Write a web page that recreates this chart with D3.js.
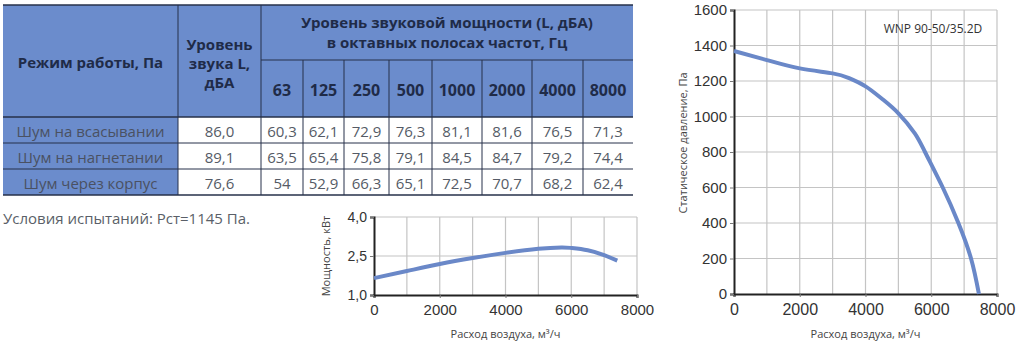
<!DOCTYPE html>
<html><head><meta charset="utf-8">
<script src="https://cdn.jsdelivr.net/npm/d3@7"></script>
<style>body{margin:0;background:#fff}svg{display:block}</style>
</head><body>
<svg id="c" width="1023" height="351"></svg>
<script>
// ---- data ----
const freqBands = ["63","125","250","500","1000","2000","4000","8000"];
const rowLabels = ["Шум на всасывании","Шум на нагнетании","Шум через корпус"];
const totalLevel = ["86,0","89,1","76,6"];
const bandLevels = [
  ["60,3","62,1","72,9","76,3","81,1","81,6","76,5","71,3"],
  ["63,5","65,4","75,8","79,1","84,5","84,7","79,2","74,4"],
  ["54","52,9","66,3","65,1","72,5","70,7","68,2","62,4"]
];
const testNote = "Условия испытаний: Рст=1145 Па.";
const powerFlow = [0,1000,2000,3000,4000,5000,5700,6000,6500,7000,7400];
const powerKW   = [1.65,1.92,2.19,2.42,2.62,2.78,2.83,2.81,2.72,2.53,2.32];
const powerYTicks = [1.0,2.5,4.0];
const flowTicks = [0,2000,4000,6000,8000];
const pressFlow = [0,1000,2000,3000,3500,4000,4500,5000,5500,5810,6350,6825,7210,7450];
const pressPa   = [1369,1318,1271,1243,1216,1170,1100,1018,905,800,600,400,200,0];
const pressYTicks = [0,200,400,600,800,1000,1200,1400,1600];
const modelName = "WNP 90-50/35.2D";

const svg = d3.select("#c");
const blue = "#6b8ccc", border = "#26304a", hdrText = "#1f2b48", bodyText = "#555b66", curveCol = "#6a88c8";
const font = "'Open Sans', sans-serif";

// ---- table ----
const colX = [3,178,261,303,344,389,432,482,532,583,633];
const yTop = 5, ySub = 60, yHead = 117, rowH = 26;
const t = svg.append("g");
t.append("rect").attr("x",colX[0]).attr("y",yTop).attr("width",colX[10]-colX[0]).attr("height",yHead-yTop).attr("fill",blue);
t.append("rect").attr("x",colX[0]).attr("y",yHead).attr("width",colX[1]-colX[0]).attr("height",rowH*3).attr("fill",blue);
const L = (x1,y1,x2,y2,w)=>t.append("line").attr("x1",x1).attr("y1",y1).attr("x2",x2).attr("y2",y2).attr("stroke",border).attr("stroke-width",w||1);
L(colX[0],yTop,colX[10],yTop,1.5);
L(colX[2],ySub,colX[10],ySub);
for(let i=0;i<=3;i++) L(colX[0],yHead+i*rowH,colX[10],yHead+i*rowH,i===0||i===3?1.5:1);
L(colX[1],yTop,colX[1],yHead+3*rowH);
L(colX[2],yTop,colX[2],yHead+3*rowH);
for(let i=3;i<10;i++) L(colX[i],ySub,colX[i],yHead+3*rowH);
const T = (x,y,s,opt)=>t.append("text").attr("x",x).attr("y",y).attr("text-anchor","middle").attr("dominant-baseline","central")
  .attr("font-family",font).attr("font-size",opt.size||15).attr("font-weight",opt.bold?700:400).attr("fill",opt.fill).text(s);
T((colX[0]+colX[1])/2,62,"Режим работы, Па",{bold:1,fill:hdrText});
T((colX[1]+colX[2])/2,44,"Уровень",{bold:1,fill:hdrText});
T((colX[1]+colX[2])/2,63,"звука L,",{bold:1,fill:hdrText});
T((colX[1]+colX[2])/2,82,"дБА",{bold:1,fill:hdrText});
T((colX[2]+colX[10])/2,22,"Уровень звуковой мощности (L, дБА)",{bold:1,fill:hdrText});
T((colX[2]+colX[10])/2,42,"в октавных полосах частот, Гц",{bold:1,fill:hdrText});
freqBands.forEach((f,i)=>T((colX[i+2]+colX[i+3])/2,90,f,{bold:1,fill:hdrText,size:16}));
rowLabels.forEach((r,j)=>{
  const cy = yHead+rowH*j+rowH/2+1;
  T((colX[0]+colX[1])/2,cy,r,{fill:"#4a5162"});
  T((colX[1]+colX[2])/2,cy,totalLevel[j],{fill:bodyText});
  bandLevels[j].forEach((v,i)=>T((colX[i+2]+colX[i+3])/2,cy,v,{fill:bodyText}));
});
svg.append("text").attr("x",3).attr("y",218).attr("dominant-baseline","central").attr("font-family",font)
  .attr("font-size",15).attr("fill","#5a5f68").text(testNote);

// ---- generic chart helper ----
function chart(o){
  const g = svg.append("g");
  const x = d3.scaleLinear().domain([0,8000]).range([o.x0,o.x1]);
  const y = d3.scaleLinear().domain(o.ydom).range([o.y1,o.y0]);
  g.append("g").selectAll("line").data(d3.range(1000,8001,1000)).join("line")
    .attr("x1",d=>x(d)).attr("x2",d=>x(d)).attr("y1",o.y0).attr("y2",o.y1).attr("stroke","#c4c4c4").attr("stroke-width",1.2);
  g.append("g").selectAll("line").data(o.yt.slice(1)).join("line")
    .attr("x1",o.x0).attr("x2",o.x1).attr("y1",d=>y(d)).attr("y2",d=>y(d)).attr("stroke","#c4c4c4").attr("stroke-width",1.2);
  const ax = g.append("g").attr("transform",`translate(0,${o.y1})`).call(d3.axisBottom(x).tickValues(flowTicks).tickSize(3).tickPadding(o.xpad).tickFormat(d3.format("d")));
  const ay = g.append("g").attr("transform",`translate(${o.x0},0)`).call(d3.axisLeft(y).tickValues(o.yt).tickSize(4).tickPadding(3).tickFormat(o.yfmt));
  [ax,ay].forEach(a=>{a.select(".domain").attr("stroke","#222").attr("stroke-width",2);
    a.selectAll(".tick line").attr("stroke","#777");
    a.selectAll("text").attr("font-family","'Liberation Sans', Arial, sans-serif").attr("fill","#333");});
  ax.selectAll("text").attr("font-size",o.fsx);
  ay.selectAll("text").attr("font-size",o.fsy);
  g.append("path").datum(o.xs.map((v,i)=>[v,o.ys[i]]))
    .attr("d",d3.line().x(d=>x(d[0])).y(d=>y(d[1])).curve(d3.curveNatural))
    .attr("fill","none").attr("stroke",curveCol).attr("stroke-width",4).attr("stroke-linecap","butt");
  g.append("text").attr("x",(o.x0+o.x1)/2).attr("y",333).attr("text-anchor","middle").attr("dominant-baseline","central")
    .attr("font-family",font).attr("font-size",11).attr("fill","#444").text("Расход воздуха, м³/ч");
  g.append("text").attr("transform",`translate(${o.ylx},${o.yly}) rotate(-90)`).attr("text-anchor","middle").attr("dominant-baseline","central")
    .attr("font-family",font).attr("font-size",11).attr("fill","#444").text(o.ylab);
  return {g,x,y};
}
chart({x0:374,x1:637,y0:217,y1:295,ydom:[1,4],yt:powerYTicks,yfmt:d=>d3.format(".1f")(d).replace(".",","),
  xs:powerFlow,ys:powerKW,fsx:15,fsy:14,xpad:6,ylab:"Мощность, кВт",ylx:325,yly:256});
const p = chart({x0:734,x1:997,y0:10,y1:294,ydom:[0,1600],yt:pressYTicks,yfmt:d3.format("d"),
  xs:pressFlow,ys:pressPa,fsx:16,fsy:15,xpad:7,ylab:"Статическое давление, Па",ylx:682,yly:143});
p.g.append("text").attr("x",933).attr("y",28).attr("text-anchor","middle").attr("dominant-baseline","central")
  .attr("font-family",font).attr("font-size",12).attr("fill","#333").text(modelName);
</script>
</body></html>
